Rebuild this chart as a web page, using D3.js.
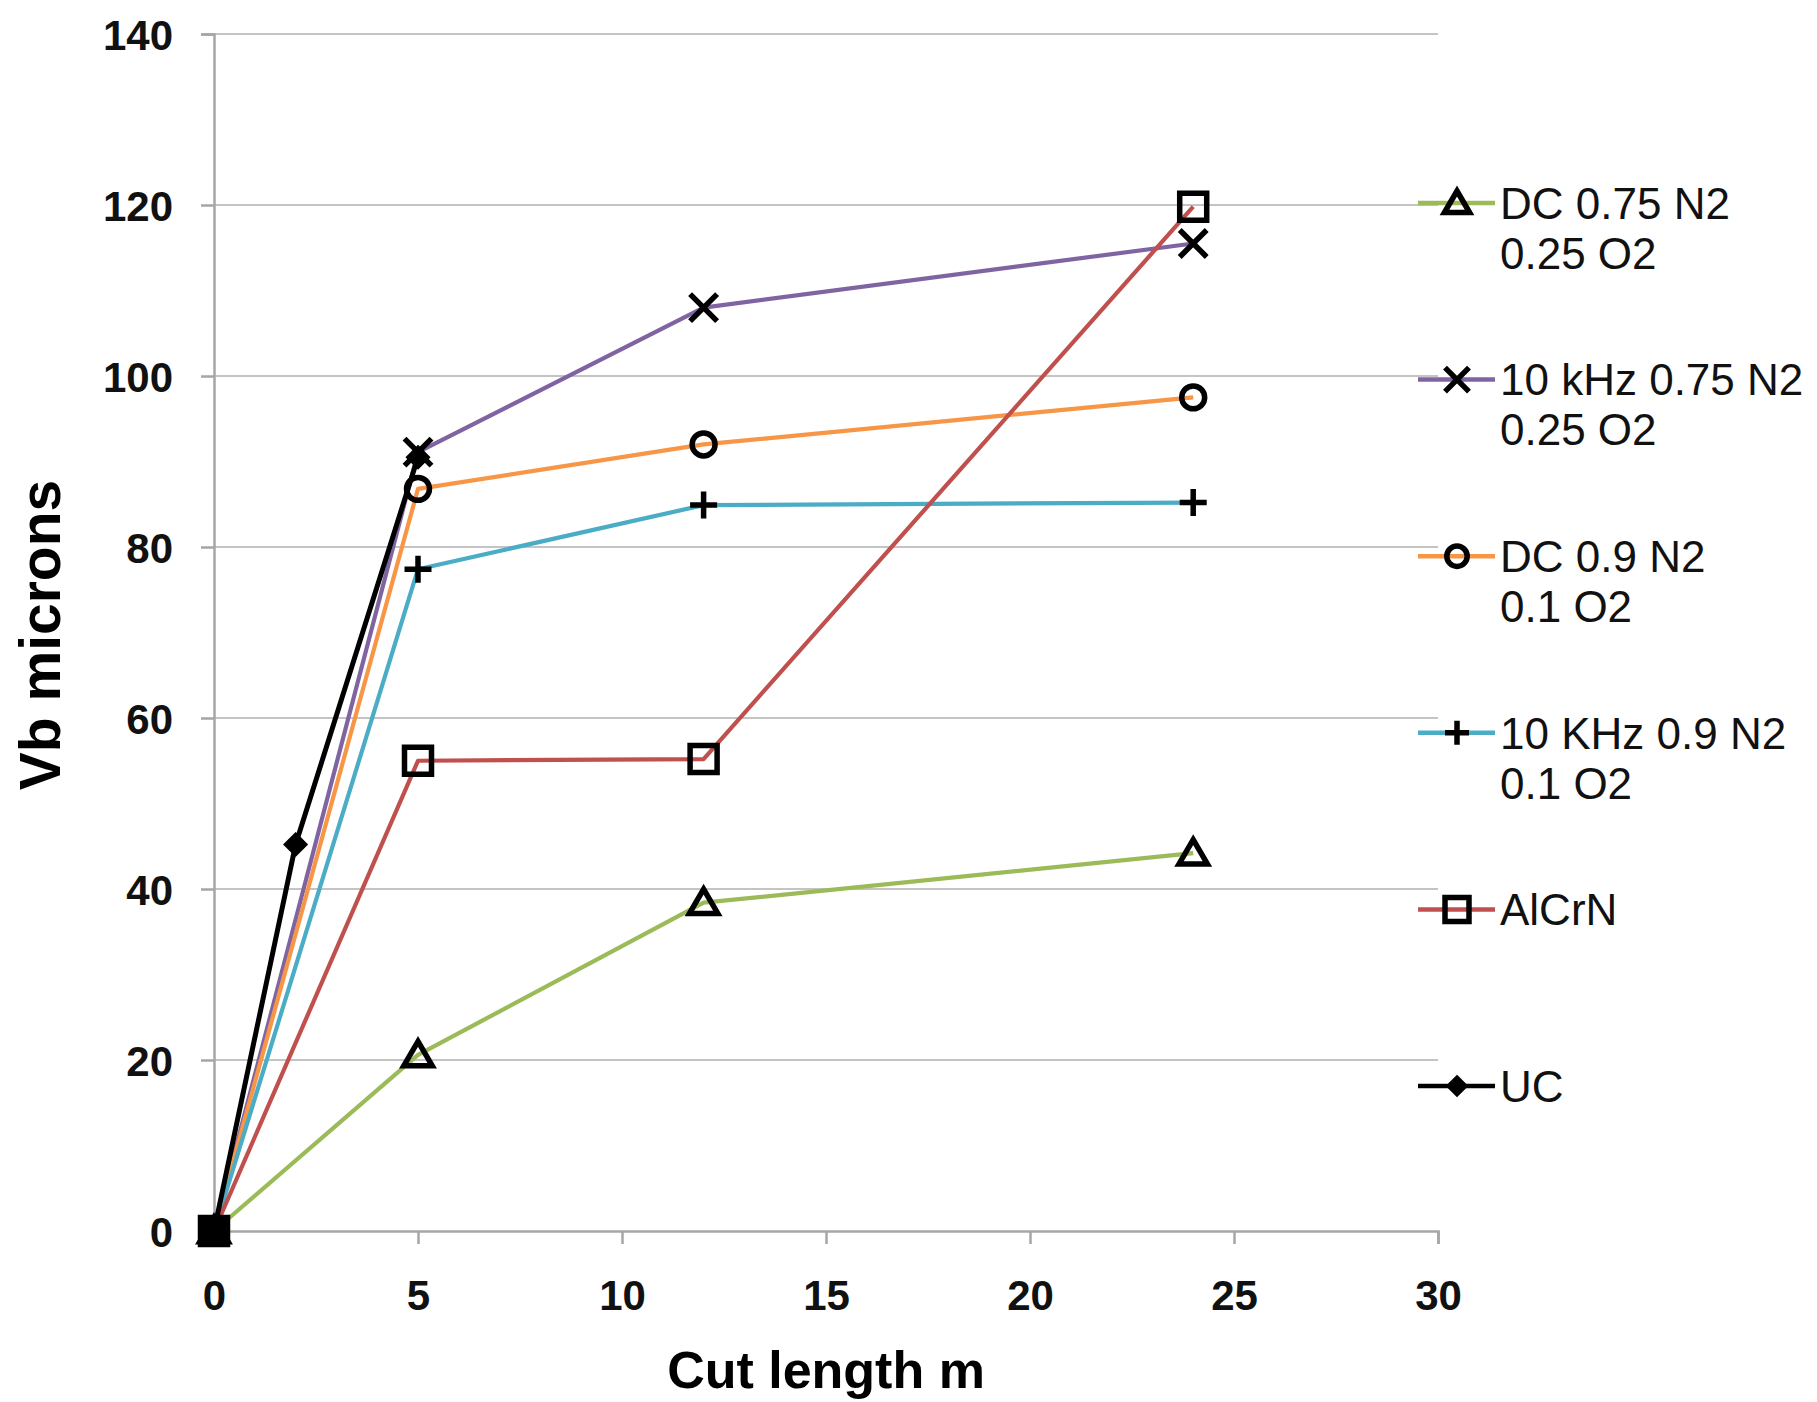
<!DOCTYPE html>
<html>
<head>
<meta charset="utf-8">
<script src="https://cdn.jsdelivr.net/npm/d3@7"></script>
<style>
  body { margin: 0; background: #fff; }
  svg { display: block; font-family: Arial, "Liberation Sans", sans-serif; }
  .tick text { font-weight: bold; font-size: 42px; fill: #111; }
  .legend text { font-size: 44px; fill: #111; }
  .axisTitle { font-weight: bold; fill: #000; }
</style>
</head>
<body>
<div id="chart"></div>
<script>
// data
var cutLength = [0, 5, 12, 24];
var ucCutLength = [0, 2, 5];
var dc075 = [0, 20.6, 38.4, 44.2];
var khz075 = [0, 91.1, 108.0, 115.5];
var dc09 = [0, 86.8, 92.0, 97.5];
var khz09 = [0, 77.4, 84.9, 85.2];
var alcrn = [0, 55.0, 55.2, 119.8];
var uc = [0, 45.2, 90.5];
var xTicks = [0, 5, 10, 15, 20, 25, 30];
var yTicks = [0, 20, 40, 60, 80, 100, 120, 140];

var series = [
    {name: ["DC 0.75 N2", "0.25 O2"], xs: cutLength, ys: dc075, color: "#9bbb59", marker: "triangle"},
    {name: ["10 kHz 0.75 N2", "0.25 O2"], xs: cutLength, ys: khz075, color: "#8064a2", marker: "times"},
    {name: ["DC 0.9 N2", "0.1 O2"], xs: cutLength, ys: dc09, color: "#f79646", marker: "circle"},
    {name: ["10 KHz 0.9 N2", "0.1 O2"], xs: cutLength, ys: khz09, color: "#4bacc6", marker: "plus"},
    {name: ["AlCrN"], xs: cutLength, ys: alcrn, color: "#c0504d", marker: "square"},
    {name: ["UC"], xs: ucCutLength, ys: uc, color: "#000000", marker: "diamond"}
];

var svgWidth = 1817;
var svgHeight = 1402;
var margin = {top: 34, left: 214};
var width = 1438 - margin.left;
var height = 1231 - margin.top;

var svg = d3.select("#chart").append("svg")
    .attr("width", svgWidth)
    .attr("height", svgHeight);

var chartGroup = svg.append("g")
    .attr("transform", `translate(${margin.left}, ${margin.top})`);

var x = d3.scaleLinear().domain([0, 30]).range([0, width]);
var y = d3.scaleLinear().domain([0, 140]).range([height, 0]);

// gridlines
chartGroup.append("g")
    .selectAll("line")
    .data(yTicks.filter(d => d > 0))
    .enter()
    .append("line")
    .attr("x1", 0)
    .attr("x2", width)
    .attr("y1", d => y(d))
    .attr("y2", d => y(d))
    .attr("stroke", "#c4c4c4")
    .attr("stroke-width", 2);

// axes
var bottomAxis = d3.axisBottom(x).tickValues(xTicks).tickSize(13).tickPadding(36);
var leftAxis = d3.axisLeft(y).tickValues(yTicks).tickSize(13).tickPadding(28);

var gx = chartGroup.append("g")
    .attr("transform", `translate(0, ${height})`)
    .call(bottomAxis);
var gy = chartGroup.append("g").call(leftAxis);

[gx, gy].forEach(function (g) {
    g.select(".domain").attr("stroke", "#a6a6a6").attr("stroke-width", 2.5);
    g.selectAll(".tick line").attr("stroke", "#a6a6a6").attr("stroke-width", 2.5);
});
gy.selectAll(".tick text").attr("dy", "0.36em");
gx.selectAll(".tick text").attr("dy", "0.72em");

// marker shapes
function markerPath(type, s) {
    var h = s / 2;
    switch (type) {
        case "triangle":
            return `M0,${-h}L${h * 1.05},${h * 0.8}L${-h * 1.05},${h * 0.8}Z`;
        case "times":
            return `M${-h},${-h}L${h},${h}M${h},${-h}L${-h},${h}`;
        case "circle":
            return d3.arc()({innerRadius: 0, outerRadius: h * 0.85, startAngle: 0, endAngle: 2 * Math.PI});
        case "plus":
            return `M${-h},0L${h},0M0,${-h}L0,${h}`;
        case "square":
            return `M${-h},${-h}L${h},${-h}L${h},${h}L${-h},${h}Z`;
        case "diamond":
            return `M0,${-h * 0.8}L${h * 0.8},0L0,${h * 0.8}L${-h * 0.8},0Z`;
    }
}

var line = d3.line().x(d => x(d[0])).y(d => y(d[1]));

series.forEach(function (s) {
    var pts = s.xs.map((v, i) => [v, s.ys[i]]);
    chartGroup.append("path")
        .datum(pts)
        .attr("d", line)
        .attr("fill", "none")
        .attr("stroke", s.color)
        .attr("stroke-width", s.marker === "diamond" ? 5 : 4.2)
        .attr("stroke-linejoin", "round");
});

series.forEach(function (s) {
    var pts = s.xs.map((v, i) => [v, s.ys[i]]);
    chartGroup.append("g")
        .selectAll("path")
        .data(pts)
        .enter()
        .append("path")
        .attr("transform", d => `translate(${x(d[0])}, ${y(d[1])})`)
        .attr("d", markerPath(s.marker, 27))
        .attr("fill", s.marker === "diamond" ? "#000" : "none")
        .attr("stroke", "#000")
        .attr("stroke-width", s.marker === "diamond" ? 2.5 : 5.5)
        .attr("stroke-linejoin", "miter");
});

// legend
var legend = svg.append("g").attr("class", "legend");
series.forEach(function (s, i) {
    var ly = 203 + i * 176.6;
    var item = legend.append("g").attr("transform", `translate(0, ${ly})`);
    item.append("line")
        .attr("x1", 1418).attr("x2", 1495)
        .attr("y1", 0).attr("y2", 0)
        .attr("stroke", s.color)
        .attr("stroke-width", 4.5);
    item.append("path")
        .attr("transform", "translate(1457, 0)")
        .attr("d", markerPath(s.marker, 24))
        .attr("fill", s.marker === "diamond" ? "#000" : "none")
        .attr("stroke", "#000")
        .attr("stroke-width", s.marker === "diamond" ? 2.5 : 5.5);
    s.name.forEach(function (t, j) {
        item.append("text")
            .attr("x", 1500)
            .attr("y", j * 50)
            .attr("dy", "0.36em")
            .text(t);
    });
});

// axis titles
svg.append("text")
    .attr("class", "axisTitle")
    .attr("transform", "translate(60, 635) rotate(-90)")
    .attr("text-anchor", "middle")
    .style("font-size", "57px")
    .text("Vb microns");

svg.append("text")
    .attr("class", "axisTitle")
    .attr("x", margin.left + width / 2)
    .attr("y", 1388)
    .attr("text-anchor", "middle")
    .style("font-size", "52px")
    .text("Cut length m");
</script>
</body>
</html>
